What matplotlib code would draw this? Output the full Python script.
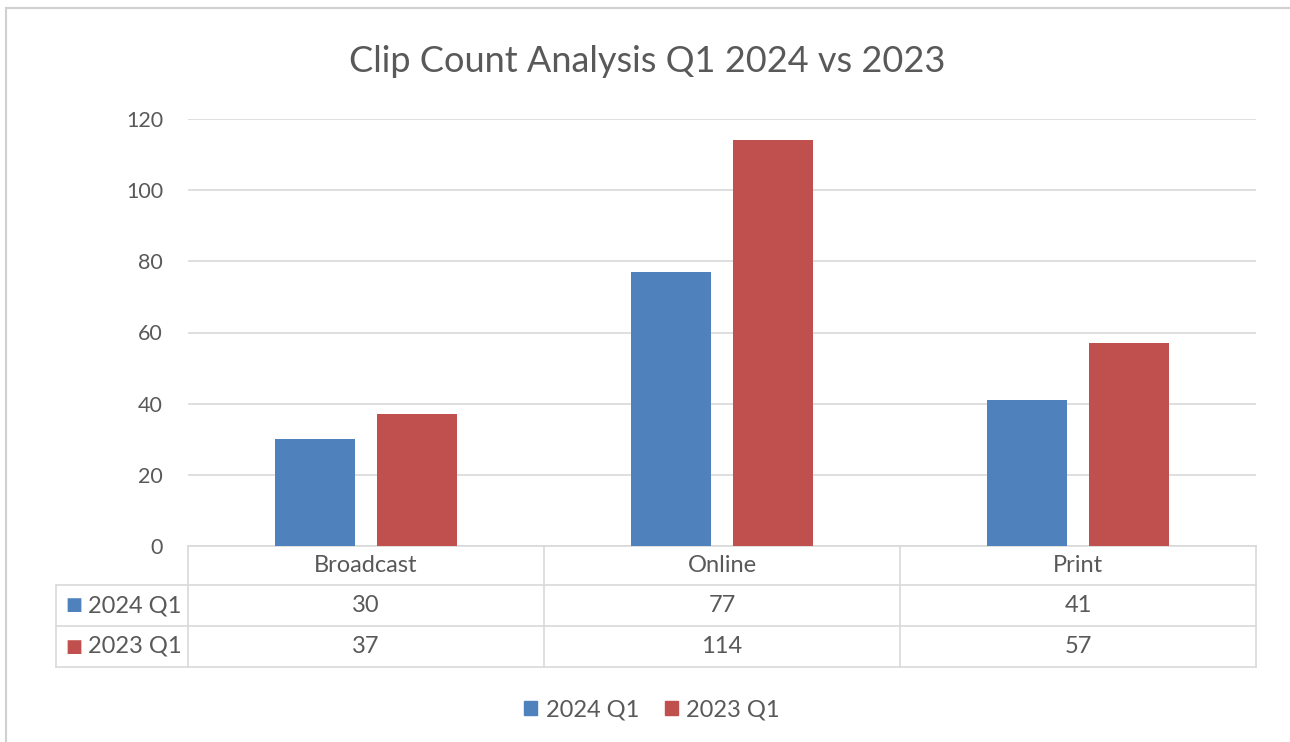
import matplotlib.pyplot as plt
from matplotlib.patches import Rectangle
from matplotlib.lines import Line2D

# Clip counts by media type
categories = ["Broadcast", "Online", "Print"]
series_names = ["2024 Q1", "2023 Q1"]
counts_2024 = [30, 77, 41]
counts_2023 = [37, 114, 57]
yticks = [0, 20, 40, 60, 80, 100, 120]

colors = ["#4F81BD", "#C0504D"]
text_color = "#595959"
grid_color = "#D9D9D9"

plt.rcParams['font.family'] = ['Lato', 'DejaVu Sans']

W, H = 1290, 742
fig = plt.figure(figsize=(W / 100, H / 100), dpi=100)
fig.patch.set_facecolor("white")

# outer chart border (cut off at the right and bottom edges)
fig.patches.append(Rectangle((6 / W, -0.1), 1.2, 1 - 8 / H + 0.1,
                             transform=fig.transFigure, fill=False,
                             edgecolor="#D0D0D0", lw=1.5))

left, right, top, bottom = 188, 1256, 119, 546
ax = fig.add_axes([left / W, 1 - bottom / H, (right - left) / W, (bottom - top) / H])

x = range(len(categories))
width = 0.225
offset = 0.142
ax.bar([i - offset for i in x], counts_2024, width, color=colors[0], zorder=3)
ax.bar([i + offset for i in x], counts_2023, width, color=colors[1], zorder=3)

ax.set_xlim(-0.5, len(categories) - 0.5)
ax.set_ylim(0, 120)
ax.set_yticks(yticks)
ax.set_yticklabels([str(t) for t in yticks], fontsize=15.5, color=text_color)
ax.tick_params(axis="y", length=0, pad=18)
ax.set_xticks([])
ax.yaxis.grid(True, color=grid_color, lw=1.2, zorder=0)
for s in ax.spines.values():
    s.set_visible(False)

fig.text(647 / W, 1 - 62 / H, "Clip Count Analysis Q1 2024 vs 2023", fontsize=26,
         color=text_color, ha="center", va="center")

# data table under the plot, columns follow the category slots
px = (bottom - top)
row_edges = [0, -(585 - 546) / px, -(626 - 546) / px, -(667 - 546) / px]
label_left = -0.5 - (left - 56) / ((right - left) / len(categories))
tr = ax.get_xaxis_transform()

def hline(x0, x1, y):
    ax.add_line(Line2D([x0, x1], [y, y], transform=tr, color=grid_color,
                       lw=1.2, clip_on=False))

def vline(xv, y0, y1):
    ax.add_line(Line2D([xv, xv], [y0, y1], transform=tr, color=grid_color,
                       lw=1.2, clip_on=False))

hline(-0.5, len(categories) - 0.5, row_edges[0])
for y in row_edges[1:]:
    hline(label_left, len(categories) - 0.5, y)
vline(label_left, row_edges[1], row_edges[3])
for xv in [i - 0.5 for i in range(len(categories) + 1)]:
    vline(xv, row_edges[0], row_edges[3])

fs = 17
for i, cat in enumerate(categories):
    ax.text(i, (row_edges[0] + row_edges[1]) / 2, cat, transform=tr,
            ha="center", va="center", fontsize=fs, color=text_color)

rows = [counts_2024, counts_2023]
for r, (name, vals) in enumerate(zip(series_names, rows)):
    yc = (row_edges[r + 1] + row_edges[r + 2]) / 2
    for i, v in enumerate(vals):
        ax.text(i, yc, str(v), transform=tr, ha="center", va="center",
                fontsize=fs, color=text_color)
    ax.text(label_left + 0.026, yc, "\u25A0", transform=tr, ha="left",
            va="center", fontsize=13, color=colors[r], family="DejaVu Sans")
    ax.text(label_left + 0.09, yc, name, transform=tr, ha="left",
            va="center", fontsize=fs, color=text_color)

# legend below the table
handles = [Rectangle((0, 0), 1, 1, color=c) for c in colors]
fig.legend(handles, series_names, loc="center", bbox_to_anchor=(652 / W, 1 - 710 / H),
           ncol=2, frameon=False, fontsize=fs, handlelength=0.55, handleheight=0.55,
           handletextpad=0.35, columnspacing=1.1, labelcolor=text_color)

fig.savefig("out.png", dpi=100, facecolor="white")
